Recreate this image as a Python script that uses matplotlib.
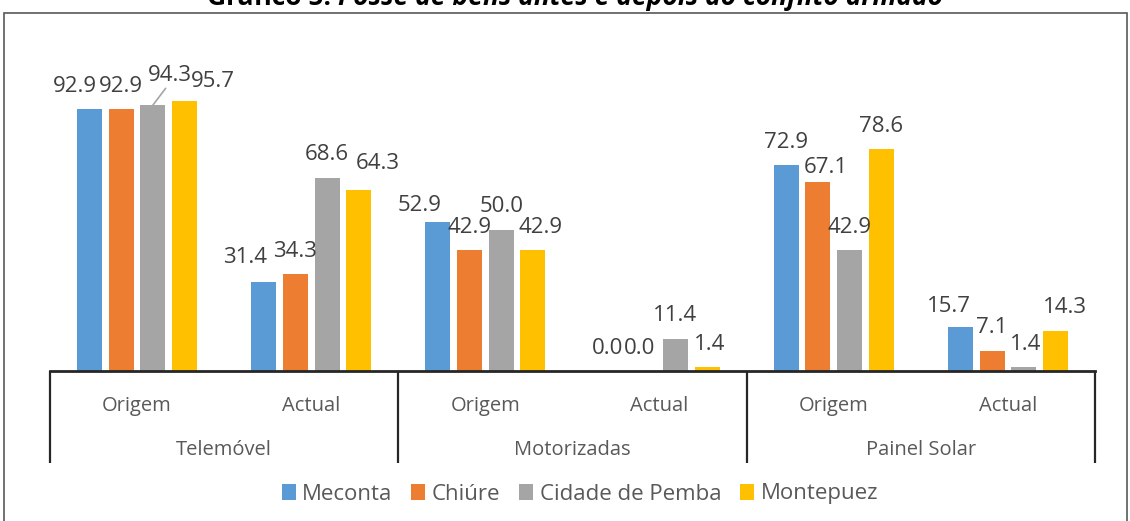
import matplotlib
matplotlib.use("Agg")
import matplotlib.pyplot as plt
from matplotlib.patches import Rectangle, Patch
import numpy as np

plt.rcParams['font.family'] = ['Open Sans', 'DejaVu Sans']

# ---- data ----
groups = ["Telemóvel", "Motorizadas", "Painel Solar"]
periods = ["Origem", "Actual"]
series = ["Meconta", "Chiúre", "Cidade de Pemba", "Montepuez"]
meconta = [92.9, 31.4, 52.9, 0.0, 72.9, 15.7]
chiure = [92.9, 34.3, 42.9, 0.0, 67.1, 7.1]
pemba = [94.3, 68.6, 50.0, 11.4, 42.9, 1.4]
montepuez = [95.7, 64.3, 42.9, 1.4, 78.6, 14.3]
title_a = "Gráfico 5:"
title_b = "Posse de bens antes e depois do conflito armado"

# ---- style ----
colors = ["#5B9BD5", "#ED7D31", "#A5A5A5", "#FFC000"]
label_color = "#404040"
axis_text = "#595959"
# label nudges (pixels, x right, y down) per series, per category
nudges = [
    [(-15, 0), (-19, -2), (-18, 7), (-4, 0), (0, 0), (-11, 3)],
    [(0, 0), (0, 0), (0, 0), (-4, 0), (8, 9), (0, 0)],
    [(17, -7), (0, 0), (0, 0), (0, 0), (0, 0), (2, 0)],
    [(28, 3), (19, -3), (8, 0), (2, 0), (0, 0), (9, 0)],
]
leaders = {(2, 0)}

W, H = 1130, 521
fig = plt.figure(figsize=(W / 100, H / 100), dpi=100)
ax = fig.add_axes([50 / W, 1 - 371 / H, 1045 / W, 282 / H])

values = [meconta, chiure, pemba, montepuez]
ncat = len(groups) * len(periods)
x = np.arange(ncat)
step = 0.182
width = 0.1435
px2pt = 0.72
for i, (vals, c) in enumerate(zip(values, colors)):
    xs = x + (i - 1.5) * step
    ax.bar(xs, vals, width=width, color=c, zorder=2)
    for j, (xx, v) in enumerate(zip(xs, vals)):
        dx, dy = nudges[i][j]
        kw = dict(textcoords="offset points", ha="center", va="baseline",
                  fontsize=16, color=label_color, annotation_clip=False)
        if (i, j) in leaders:
            kw["arrowprops"] = dict(arrowstyle="-", color="#A5A5A5", lw=1.2,
                                    shrinkA=0, shrinkB=0, relpos=(0.45, 0.0))
        ax.annotate("%.1f" % v, xy=(xx, v),
                    xytext=(dx * px2pt, (17.5 - dy) * px2pt), **kw)

ax.set_xlim(-0.5, ncat - 0.5)
ax.set_ylim(0, 100)
for s in ["top", "right", "left"]:
    ax.spines[s].set_visible(False)
ax.spines["bottom"].set_color("#262626")
ax.spines["bottom"].set_linewidth(2)
ax.set_yticks([])
ax.set_xticks([])

trans = ax.get_xaxis_transform()
# period labels
for j in range(ncat):
    ax.text(j, (371 - 406) / 282, periods[j % 2], transform=trans, ha="center",
            va="center", fontsize=14.5, color=axis_text, clip_on=False)
# group labels
for g, name in enumerate(groups):
    ax.text(2 * g + 0.5, (371 - 450) / 282, name, transform=trans, ha="center",
            va="center", fontsize=14.5, color=axis_text, clip_on=False)
# dividers
for xd in [-0.5, 1.5, 3.5, 5.5]:
    ax.plot([xd, xd], [0, (371 - 463) / 282], transform=trans, color="#262626",
            lw=1.6, clip_on=False, solid_capstyle="butt")

# legend
handles = [Patch(facecolor=c, edgecolor="none") for c in colors]
leg = fig.legend(handles, series, loc="center", bbox_to_anchor=(580 / W, 1 - 494 / H),
                 ncol=4, frameon=False, fontsize=16, handlelength=0.62,
                 handleheight=0.7, handletextpad=0.3, columnspacing=0.85)
for t in leg.get_texts():
    t.set_color(axis_text)

# outer frame
fig.patches.append(Rectangle((3.5 / W, -0.1), (1126.5 - 3.5) / W, 1.1 - 12.5 / H,
                             transform=fig.transFigure, fill=False,
                             edgecolor="#595959", lw=1.2))

# title (cut off at top, as in the reference)
fig.text(331 / W, 1 - 5 / H, title_a, ha="right", va="baseline", fontsize=19,
         fontweight="bold", color="#000000")
fig.text(338 / W, 1 - 5 / H, title_b, ha="left", va="baseline", fontsize=19,
         fontweight="bold", fontstyle="italic", color="#000000")

fig.savefig("out.png", dpi=100, facecolor="white")
